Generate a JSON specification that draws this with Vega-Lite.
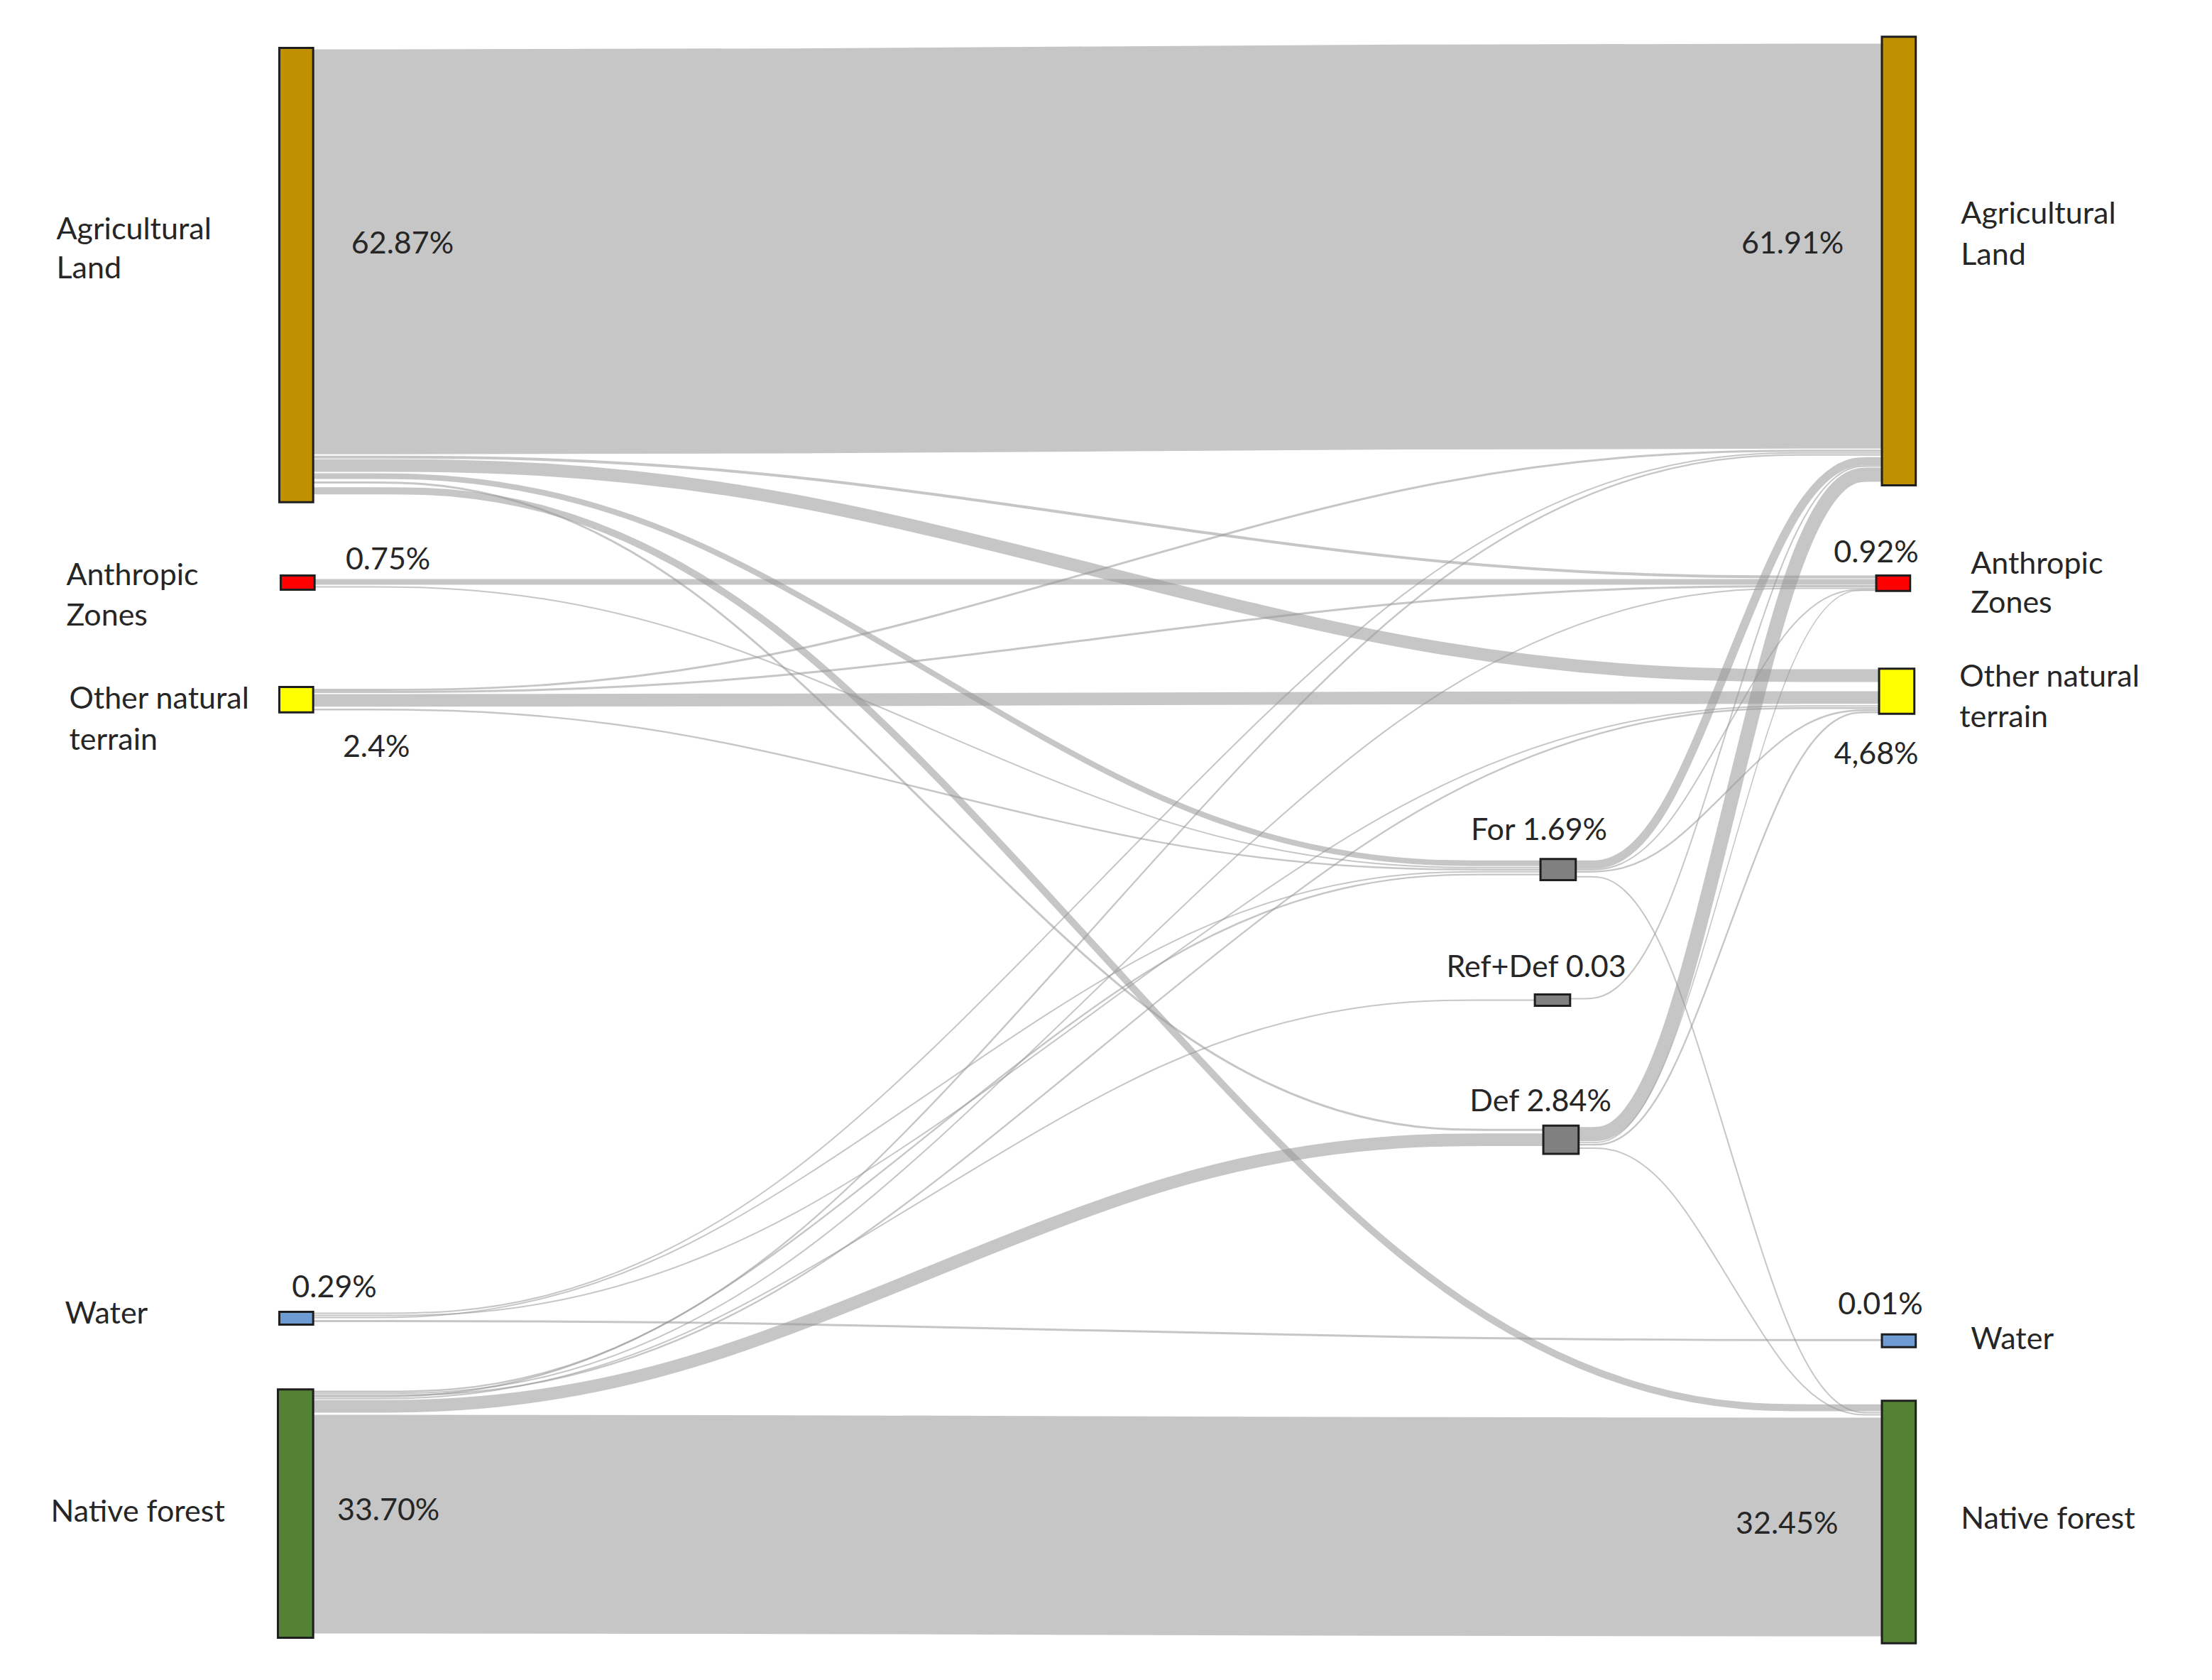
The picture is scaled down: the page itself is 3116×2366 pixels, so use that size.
{
  "$schema": "https://vega.github.io/schema/vega-lite/v6.json",
  "width": 3116,
  "height": 2366,
  "padding": 0,
  "autosize": {"type": "none"},
  "background": "white",
  "config": {"view": {"stroke": null}},
  "datasets": {
    "links": [
      {"link":1,"pt":0,"x":222,"y":178.5,"flow":287},{"link":1,"pt":1,"x":533,"y":178.5,"flow":287},{"link":1,"pt":2,"x":1023,"y":174.5,"flow":287},{"link":1,"pt":3,"x":1334,"y":174.5,"flow":287},
      {"link":23,"pt":0,"x":222,"y":1080.5,"flow":155},{"link":23,"pt":1,"x":533,"y":1080.5,"flow":155},{"link":23,"pt":2,"x":1023,"y":1082.5,"flow":155},{"link":23,"pt":3,"x":1334,"y":1082.5,"flow":155},
      {"link":2,"pt":0,"x":222,"y":324,"flow":2},{"link":2,"pt":1,"x":532,"y":324,"flow":2},{"link":2,"pt":2,"x":1020,"y":409,"flow":2},{"link":2,"pt":3,"x":1330,"y":409,"flow":2},
      {"link":3,"pt":0,"x":222,"y":330,"flow":9},{"link":3,"pt":1,"x":533,"y":330,"flow":9},{"link":3,"pt":2,"x":1021,"y":479,"flow":9},{"link":3,"pt":3,"x":1332,"y":479,"flow":9},
      {"link":4,"pt":0,"x":222,"y":337.5,"flow":4},{"link":4,"pt":1,"x":466,"y":337.5,"flow":4},{"link":4,"pt":2,"x":848,"y":612,"flow":4},{"link":4,"pt":3,"x":1092,"y":612,"flow":4},
      {"link":5,"pt":0,"x":222,"y":342,"flow":1.5},{"link":5,"pt":1,"x":466,"y":342,"flow":1.5},{"link":5,"pt":2,"x":850,"y":801,"flow":1.5},{"link":5,"pt":3,"x":1094,"y":801,"flow":1.5},
      {"link":6,"pt":0,"x":222,"y":348,"flow":5},{"link":6,"pt":1,"x":533,"y":348,"flow":5},{"link":6,"pt":2,"x":1023,"y":998,"flow":5},{"link":6,"pt":3,"x":1334,"y":998,"flow":5},
      {"link":7,"pt":0,"x":222,"y":412.5,"flow":4},{"link":7,"pt":1,"x":532,"y":412.5,"flow":4},{"link":7,"pt":2,"x":1020,"y":412.5,"flow":4},{"link":7,"pt":3,"x":1330,"y":412.5,"flow":4},
      {"link":8,"pt":0,"x":222,"y":416,"flow":1},{"link":8,"pt":1,"x":466,"y":416,"flow":1},{"link":8,"pt":2,"x":848,"y":615,"flow":1},{"link":8,"pt":3,"x":1092,"y":615,"flow":1},
      {"link":9,"pt":0,"x":222,"y":489,"flow":1.5},{"link":9,"pt":1,"x":533,"y":489,"flow":1.5},{"link":9,"pt":2,"x":1023,"y":319.5,"flow":1.5},{"link":9,"pt":3,"x":1334,"y":319.5,"flow":1.5},
      {"link":10,"pt":0,"x":222,"y":490.5,"flow":1.5},{"link":10,"pt":1,"x":532,"y":490.5,"flow":1.5},{"link":10,"pt":2,"x":1020,"y":415.5,"flow":1.5},{"link":10,"pt":3,"x":1330,"y":415.5,"flow":1.5},
      {"link":11,"pt":0,"x":222,"y":496.5,"flow":9},{"link":11,"pt":1,"x":533,"y":496.5,"flow":9},{"link":11,"pt":2,"x":1021,"y":494.5,"flow":9},{"link":11,"pt":3,"x":1332,"y":494.5,"flow":9},
      {"link":12,"pt":0,"x":222,"y":503,"flow":1.2},{"link":12,"pt":1,"x":466,"y":503,"flow":1.2},{"link":12,"pt":2,"x":848,"y":616.5,"flow":1.2},{"link":12,"pt":3,"x":1092,"y":616.5,"flow":1.2},
      {"link":13,"pt":0,"x":222,"y":931,"flow":1},{"link":13,"pt":1,"x":533,"y":931,"flow":1},{"link":13,"pt":2,"x":1023,"y":321,"flow":1},{"link":13,"pt":3,"x":1334,"y":321,"flow":1},
      {"link":14,"pt":0,"x":222,"y":932.5,"flow":1},{"link":14,"pt":1,"x":533,"y":932.5,"flow":1},{"link":14,"pt":2,"x":1021,"y":500.5,"flow":1},{"link":14,"pt":3,"x":1332,"y":500.5,"flow":1},
      {"link":15,"pt":0,"x":222,"y":934,"flow":1},{"link":15,"pt":1,"x":466,"y":934,"flow":1},{"link":15,"pt":2,"x":848,"y":618,"flow":1},{"link":15,"pt":3,"x":1092,"y":618,"flow":1},
      {"link":16,"pt":0,"x":222,"y":936.5,"flow":1.5},{"link":16,"pt":1,"x":533,"y":936.5,"flow":1.5},{"link":16,"pt":2,"x":1023,"y":950,"flow":1.5},{"link":16,"pt":3,"x":1334,"y":950,"flow":1.5},
      {"link":17,"pt":0,"x":222,"y":986.5,"flow":1.2},{"link":17,"pt":1,"x":533,"y":986.5,"flow":1.2},{"link":17,"pt":2,"x":1023,"y":322.5,"flow":1.2},{"link":17,"pt":3,"x":1334,"y":322.5,"flow":1.2},
      {"link":18,"pt":0,"x":222,"y":987.7,"flow":1},{"link":18,"pt":1,"x":532,"y":987.7,"flow":1},{"link":18,"pt":2,"x":1020,"y":417,"flow":1},{"link":18,"pt":3,"x":1330,"y":417,"flow":1},
      {"link":19,"pt":0,"x":222,"y":989,"flow":1.2},{"link":19,"pt":1,"x":533,"y":989,"flow":1.2},{"link":19,"pt":2,"x":1021,"y":502,"flow":1.2},{"link":19,"pt":3,"x":1332,"y":502,"flow":1.2},
      {"link":20,"pt":0,"x":222,"y":990.2,"flow":1.2},{"link":20,"pt":1,"x":466,"y":990.2,"flow":1.2},{"link":20,"pt":2,"x":848,"y":620,"flow":1.2},{"link":20,"pt":3,"x":1092,"y":620,"flow":1.2},
      {"link":21,"pt":0,"x":222,"y":991.5,"flow":1},{"link":21,"pt":1,"x":464,"y":991.5,"flow":1},{"link":21,"pt":2,"x":846,"y":709,"flow":1},{"link":21,"pt":3,"x":1088,"y":709,"flow":1},
      {"link":22,"pt":0,"x":222,"y":997,"flow":9},{"link":22,"pt":1,"x":466,"y":997,"flow":9},{"link":22,"pt":2,"x":850,"y":808,"flow":9},{"link":22,"pt":3,"x":1094,"y":808,"flow":9},
      {"link":24,"pt":0,"x":1117,"y":613,"flow":6},{"link":24,"pt":1,"x":1178,"y":613,"flow":6},{"link":24,"pt":2,"x":1273,"y":327,"flow":6},{"link":24,"pt":3,"x":1334,"y":327,"flow":6},
      {"link":25,"pt":0,"x":1117,"y":616.5,"flow":1},{"link":25,"pt":1,"x":1177,"y":616.5,"flow":1},{"link":25,"pt":2,"x":1270,"y":418,"flow":1},{"link":25,"pt":3,"x":1330,"y":418,"flow":1},
      {"link":26,"pt":0,"x":1117,"y":618,"flow":1.2},{"link":26,"pt":1,"x":1177,"y":618,"flow":1.2},{"link":26,"pt":2,"x":1272,"y":503.5,"flow":1.2},{"link":26,"pt":3,"x":1332,"y":503.5,"flow":1.2},
      {"link":27,"pt":0,"x":1117,"y":621.5,"flow":1},{"link":27,"pt":1,"x":1178,"y":621.5,"flow":1},{"link":27,"pt":2,"x":1273,"y":1001.5,"flow":1},{"link":27,"pt":3,"x":1334,"y":1001.5,"flow":1},
      {"link":28,"pt":0,"x":1113,"y":708,"flow":1},{"link":28,"pt":1,"x":1175,"y":708,"flow":1},{"link":28,"pt":2,"x":1272,"y":330.5,"flow":1},{"link":28,"pt":3,"x":1334,"y":330.5,"flow":1},
      {"link":29,"pt":0,"x":1119,"y":804,"flow":10},{"link":29,"pt":1,"x":1179,"y":804,"flow":10},{"link":29,"pt":2,"x":1274,"y":336.5,"flow":10},{"link":29,"pt":3,"x":1334,"y":336.5,"flow":10},
      {"link":30,"pt":0,"x":1119,"y":810,"flow":0.8},{"link":30,"pt":1,"x":1178,"y":810,"flow":0.8},{"link":30,"pt":2,"x":1271,"y":418.6,"flow":0.8},{"link":30,"pt":3,"x":1330,"y":418.6,"flow":0.8},
      {"link":31,"pt":0,"x":1119,"y":811.5,"flow":1.2},{"link":31,"pt":1,"x":1179,"y":811.5,"flow":1.2},{"link":31,"pt":2,"x":1272,"y":505,"flow":1.2},{"link":31,"pt":3,"x":1332,"y":505,"flow":1.2},
      {"link":32,"pt":0,"x":1119,"y":814,"flow":1},{"link":32,"pt":1,"x":1179,"y":814,"flow":1},{"link":32,"pt":2,"x":1274,"y":1003,"flow":1},{"link":32,"pt":3,"x":1334,"y":1003,"flow":1}
    ],
    "nodes": [
      {"node":"Agricultural Land (start)","cls":"agri","x":198,"x2":222,"y":34,"y2":356},
      {"node":"Anthropic Zones (start)","cls":"anth","x":199,"x2":223,"y":408,"y2":418},
      {"node":"Other natural terrain (start)","cls":"other","x":198,"x2":222,"y":487,"y2":505},
      {"node":"Water (start)","cls":"water","x":198,"x2":222,"y":930,"y2":939},
      {"node":"Native forest (start)","cls":"native","x":197,"x2":222,"y":985,"y2":1161},
      {"node":"For","cls":"mid","x":1092,"x2":1117,"y":609,"y2":624},
      {"node":"Ref+Def","cls":"mid","x":1088,"x2":1113,"y":705,"y2":713},
      {"node":"Def","cls":"mid","x":1094,"x2":1119,"y":798,"y2":818},
      {"node":"Agricultural Land (end)","cls":"agri","x":1334,"x2":1358,"y":26,"y2":344},
      {"node":"Anthropic Zones (end)","cls":"anth","x":1330,"x2":1354,"y":408,"y2":419},
      {"node":"Other natural terrain (end)","cls":"other","x":1332,"x2":1357,"y":474,"y2":506},
      {"node":"Water (end)","cls":"water","x":1334,"x2":1358,"y":946,"y2":955},
      {"node":"Native forest (end)","cls":"native","x":1334,"x2":1358,"y":993,"y2":1165}
    ],
    "labels": [
      {"text":"Agricultural","x":40,"y":163,"pos":"left"},
      {"text":"Land","x":40,"y":191,"pos":"left"},
      {"text":"Anthropic","x":47,"y":408,"pos":"left"},
      {"text":"Zones","x":47,"y":437,"pos":"left"},
      {"text":"Other natural","x":49,"y":496,"pos":"left"},
      {"text":"terrain","x":49,"y":525,"pos":"left"},
      {"text":"Water","x":46,"y":932,"pos":"left"},
      {"text":"Native forest","x":36,"y":1072,"pos":"left"},
      {"text":"62.87%","x":249,"y":173,"pos":"left"},
      {"text":"0.75%","x":245,"y":397,"pos":"left"},
      {"text":"2.4%","x":243,"y":530,"pos":"left"},
      {"text":"0.29%","x":207,"y":913,"pos":"left"},
      {"text":"33.70%","x":239,"y":1071,"pos":"left"},
      {"text":"61.91%","x":1307,"y":173,"pos":"right"},
      {"text":"32.45%","x":1303,"y":1081,"pos":"right"},
      {"text":"0.92%","x":1330,"y":392,"pos":"center"},
      {"text":"4,68%","x":1330,"y":535,"pos":"center"},
      {"text":"0.01%","x":1333,"y":925,"pos":"center"},
      {"text":"For 1.69%","x":1091,"y":589,"pos":"center"},
      {"text":"Ref+Def 0.03","x":1089,"y":686,"pos":"center"},
      {"text":"Def 2.84%","x":1092,"y":781,"pos":"center"},
      {"text":"Agricultural","x":1390,"y":152,"pos":"left"},
      {"text":"Land","x":1390,"y":181,"pos":"left"},
      {"text":"Anthropic","x":1397,"y":400,"pos":"left"},
      {"text":"Zones","x":1397,"y":428,"pos":"left"},
      {"text":"Other natural","x":1389,"y":480,"pos":"left"},
      {"text":"terrain","x":1389,"y":509,"pos":"left"},
      {"text":"Water","x":1397,"y":950,"pos":"left"},
      {"text":"Native forest","x":1390,"y":1077,"pos":"left"}
    ]
  },
  "layer": [
    {
      "data": {"name": "links"},
      "mark": {"type": "line", "interpolate": "basis", "color": "#979797", "opacity": 0.55, "strokeCap": "butt"},
      "encoding": {
        "x": {"field": "x", "type": "quantitative", "scale": {"domain": [0, 1568], "nice": false, "zero": false}, "axis": null},
        "y": {"field": "y", "type": "quantitative", "scale": {"domain": [0, 1191], "reverse": true, "nice": false, "zero": false}, "axis": null},
        "detail": {"field": "link", "type": "nominal"},
        "order": {"field": "pt", "type": "quantitative"},
        "strokeWidth": {"field": "flow", "type": "quantitative", "scale": {"domain": [0, 100], "range": [0, 198.7]}, "legend": null}
      }
    },
    {
      "data": {"name": "nodes"},
      "mark": {"type": "rect", "stroke": "#1e1e1e", "strokeWidth": 3},
      "encoding": {
        "x": {"field": "x", "type": "quantitative"},
        "x2": {"field": "x2"},
        "y": {"field": "y", "type": "quantitative"},
        "y2": {"field": "y2"},
        "fill": {"field": "cls", "type": "nominal", "scale": {"domain": ["agri", "anth", "other", "water", "native", "mid"], "range": ["#bf9000", "#ff0000", "#ffff00", "#6f9bd3", "#548235", "#808080"]}, "legend": null}
      }
    },
    {
      "data": {"name": "labels"},
      "transform": [{"filter": "datum.pos === 'left'"}],
      "mark": {"type": "text", "align": "left", "baseline": "middle", "font": "Lato", "fontSize": 43, "color": "#262626"},
      "encoding": {
        "x": {"field": "x", "type": "quantitative"},
        "y": {"field": "y", "type": "quantitative"},
        "text": {"field": "text"}
      }
    },
    {
      "data": {"name": "labels"},
      "transform": [{"filter": "datum.pos === 'center'"}],
      "mark": {"type": "text", "align": "center", "baseline": "middle", "font": "Lato", "fontSize": 43, "color": "#262626"},
      "encoding": {
        "x": {"field": "x", "type": "quantitative"},
        "y": {"field": "y", "type": "quantitative"},
        "text": {"field": "text"}
      }
    },
    {
      "data": {"name": "labels"},
      "transform": [{"filter": "datum.pos === 'right'"}],
      "mark": {"type": "text", "align": "right", "baseline": "middle", "font": "Lato", "fontSize": 43, "color": "#262626"},
      "encoding": {
        "x": {"field": "x", "type": "quantitative"},
        "y": {"field": "y", "type": "quantitative"},
        "text": {"field": "text"}
      }
    }
  ]
}
